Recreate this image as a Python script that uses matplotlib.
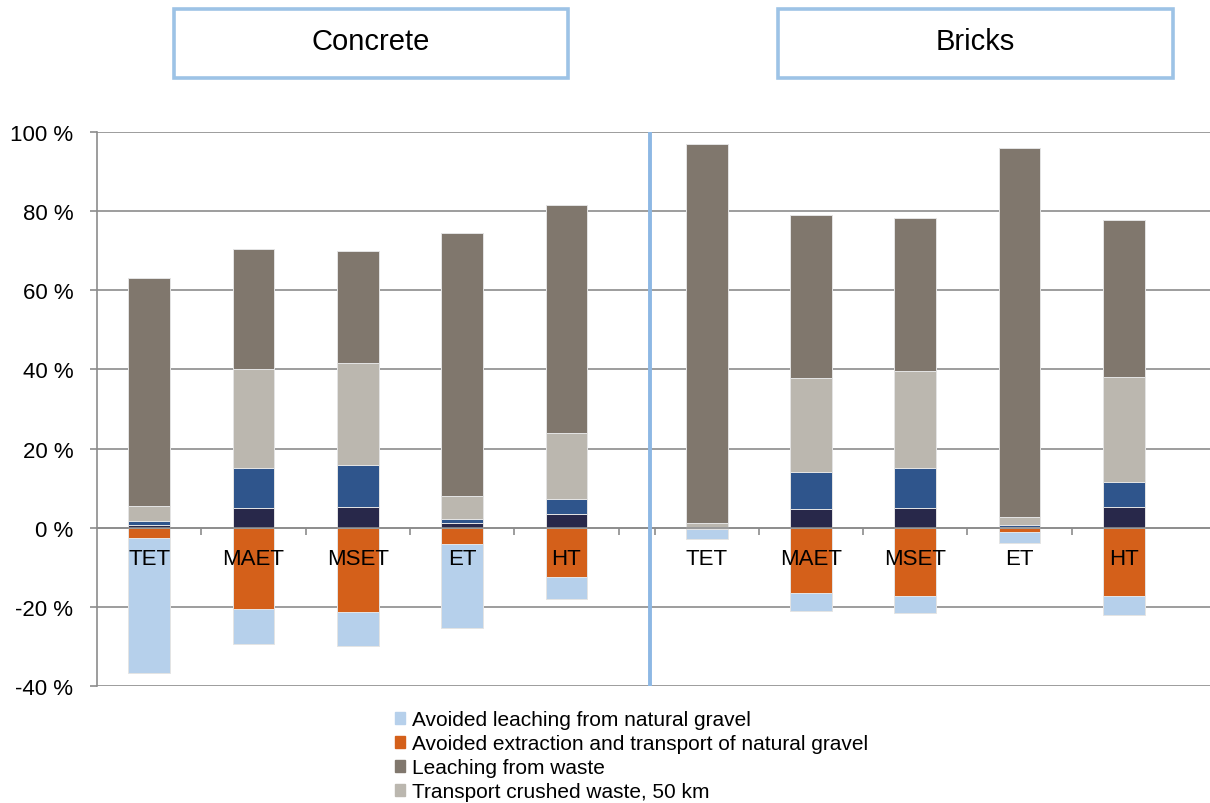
import numpy as np
import matplotlib
matplotlib.use("Agg")
import matplotlib.pyplot as plt
from matplotlib.patches import Rectangle

plt.rcParams['font.family'] = ['Liberation Sans', 'DejaVu Sans']

categories = ["TET", "MAET", "MSET", "ET", "HT"]
groups = ["Concrete", "Bricks"]

# Concrete (% contributions)
c_navy      = [0.7, 5.0, 5.2, 1.1, 3.4]
c_blue      = [1.1, 10.2, 10.7, 1.1, 3.9]
c_transport = [3.7, 25.0, 25.8, 5.9, 16.7]
c_leaching  = [57.6, 30.3, 28.3, 66.4, 57.6]
c_avoid_ext = [-2.6, -20.5, -21.2, -4.2, -12.4]
c_avoid_lea = [-34.0, -9.0, -8.8, -21.1, -5.7]

# Bricks (% contributions)
b_navy      = [0.1, 4.7, 5.0, 0.3, 5.2]
b_blue      = [0.2, 9.5, 10.2, 0.4, 6.4]
b_transport = [0.9, 23.6, 24.5, 1.9, 26.4]
b_leaching  = [95.8, 41.2, 38.6, 93.4, 39.8]
b_avoid_ext = [-0.4, -16.5, -17.3, -1.0, -17.3]
b_avoid_lea = [-2.5, -4.5, -4.3, -2.9, -4.8]

legend_labels = ["Avoided leaching from natural gravel",
                 "Avoided extraction and transport of natural gravel",
                 "Leaching from waste",
                 "Transport crushed waste, 50 km"]

col_navy = "#28284a"
col_blue = "#2f558c"
col_transport = "#bbb7af"
col_leaching = "#80776d"
col_ext = "#d4601a"
col_lea = "#b6d0eb"
grid_col = "#8c8c8c"
sep_col = "#8db8e4"

fig = plt.figure(figsize=(12.1, 8.04), dpi=100)
ax = fig.add_axes([97/1210, 1-687/804, (1210-97)/1210, (687-133)/804])

offset_bricks = 5.345
width = 0.40
x_c = np.arange(len(categories), dtype=float)
x_b = np.arange(len(categories), dtype=float) + offset_bricks

edge = dict(edgecolor="#e4e4e4", linewidth=0.7)

def draw(x, navy, blue, transport, leaching, ext, lea):
    navy = np.array(navy); blue = np.array(blue)
    transport = np.array(transport); leaching = np.array(leaching)
    ext = np.array(ext); lea = np.array(lea)
    ax.bar(x, navy, width, color=col_navy, zorder=2, **edge)
    ax.bar(x, blue, width, bottom=navy, color=col_blue, zorder=2, **edge)
    ax.bar(x, transport, width, bottom=navy+blue, color=col_transport, zorder=2, **edge)
    ax.bar(x, leaching, width, bottom=navy+blue+transport, color=col_leaching, zorder=2, **edge)
    ax.bar(x, ext, width, color=col_ext, zorder=2, **edge)
    ax.bar(x, lea, width, bottom=ext, color=col_lea, zorder=2, **edge)

draw(x_c, c_navy, c_blue, c_transport, c_leaching, c_avoid_ext, c_avoid_lea)
draw(x_b, b_navy, b_blue, b_transport, b_leaching, b_avoid_ext, b_avoid_lea)

ax.set_ylim(-40, 100)
ax.set_xlim(-0.5, 10.17)
ax.set_yticks(np.arange(-40, 101, 20))
ax.set_yticklabels([f"{v} %" for v in range(-40, 101, 20)], fontsize=16)
ax.yaxis.grid(True, color=grid_col, linewidth=1.2, zorder=0)
ax.set_axisbelow(True)

for s in ['top', 'right']:
    ax.spines[s].set_visible(False)
ax.spines['left'].set_color(grid_col)
ax.spines['left'].set_linewidth(1.2)
ax.spines['bottom'].set_position(('data', 0))
ax.spines['bottom'].set_color(grid_col)
ax.spines['bottom'].set_linewidth(1.2)
ax.spines['bottom'].set_zorder(3)

ticks = list(x_c + 0.5) + list(x_b - 0.5)
ax.set_xticks(ticks)
ax.set_xticklabels([])
ax.tick_params(axis='x', direction='out', length=5, color=grid_col, width=1.2)
ax.tick_params(axis='y', direction='out', length=5, color=grid_col, width=1.2, pad=12)

for x, lab in zip(list(x_c) + list(x_b), categories + categories):
    ax.annotate(lab, xy=(x, 0), xytext=(0, -26), textcoords='offset points',
                ha='center', va='baseline', fontsize=16, color='black', zorder=5)

# separator line between groups
sep_x = x_b[0] - 0.5 - 0.04
ax.axvline(sep_x, ymin=0, ymax=1, color=sep_col, linewidth=2.8, zorder=4)

# Group title boxes
for (x0, x1), name in zip([(174, 568), (778, 1173)], groups):
    rect = Rectangle((x0/1210, 1-79/804), (x1-x0)/1210, (79-10)/804,
                     transform=fig.transFigure, facecolor='white',
                     edgecolor="#9dc3e6", linewidth=2.6)
    fig.add_artist(rect)
    fig.text((x0+x1)/2/1210, 1-42/804, name, ha='center', va='center', fontsize=21)

# Legend
handles = [Rectangle((0, 0), 1, 1, color=c) for c in [col_lea, col_ext, col_leaching, col_transport]]
fig.legend(handles, legend_labels, loc='upper left',
           bbox_to_anchor=(395/1210, 1-711/804), frameon=False, fontsize=15,
           handlelength=0.5, handleheight=0.5, handletextpad=0.3,
           labelspacing=0.24, borderpad=0, borderaxespad=0)

fig.savefig("out.png", dpi=100)
